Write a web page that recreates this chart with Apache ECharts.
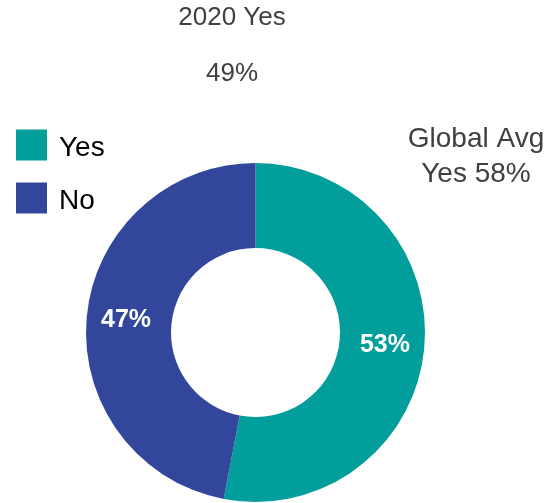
<!DOCTYPE html>
<html>
<head>
<meta charset="utf-8">
<script src="https://cdn.jsdelivr.net/npm/echarts@6/dist/echarts.min.js"></script>
<style>
  html, body { margin: 0; padding: 0; background: #ffffff; }
  #chart { width: 549px; height: 503px; }
</style>
</head>
<body>
<div id="chart"></div>
<script>
// Survey answers for 2020
const categories = ['Yes', 'No'];
const shares = [53, 47];
const sliceColors = ['#029e9b', '#32479b'];

// Header and benchmark text
const headerTitle = '2020 Yes';
const headerValue = '49%';
const benchmarkLines = ['Global Avg', 'Yes 58%'];

const FONT = '"Liberation Sans", Arial, Helvetica, sans-serif';

const chart = echarts.init(document.getElementById('chart'), null, { renderer: 'canvas' });

chart.setOption({
  backgroundColor: '#ffffff',
  animation: false,
  color: sliceColors,
  legend: {
    orient: 'vertical',
    left: 11,
    top: 123,
    itemWidth: 31,
    itemHeight: 31,
    itemGap: 19,
    icon: 'rect',
    selectedMode: false,
    data: categories,
    formatter: '{t|{name}}',
    textStyle: {
      fontFamily: FONT,
      fontSize: 28,
      color: '#000000',
      rich: {
        t: {
          fontFamily: FONT,
          fontSize: 28,
          lineHeight: 24,
          color: '#000000',
          padding: [6, 0, 0, 7]
        }
      }
    }
  },
  graphic: [
    {
      type: 'text',
      style: {
        x: 232, y: 18,
        text: headerTitle,
        align: 'center', verticalAlign: 'middle',
        font: '26px ' + FONT,
        fill: '#404040'
      }
    },
    {
      type: 'text',
      style: {
        x: 232, y: 74,
        text: headerValue,
        align: 'center', verticalAlign: 'middle',
        font: '26px ' + FONT,
        fill: '#404040'
      }
    },
    {
      type: 'text',
      style: {
        x: 476, y: 157,
        text: benchmarkLines.join('\n'),
        align: 'center', verticalAlign: 'middle',
        lineHeight: 35,
        font: '28px ' + FONT,
        fill: '#404040'
      }
    }
  ],
  series: [
    {
      type: 'pie',
      center: [255.5, 332.5],
      radius: [84.5, 169.5],
      startAngle: 90,
      clockwise: true,
      avoidLabelOverlap: false,
      itemStyle: { borderWidth: 0 },
      label: {
        show: true,
        position: 'inside',
        formatter: '{c}%',
        fontFamily: FONT,
        fontSize: 25,
        fontWeight: 'bold',
        color: '#ffffff'
      },
      labelLine: { show: false },
      emphasis: { disabled: true },
      data: categories.map((name, i) => ({ name: name, value: shares[i] }))
    }
  ]
});
</script>
</body>
</html>
